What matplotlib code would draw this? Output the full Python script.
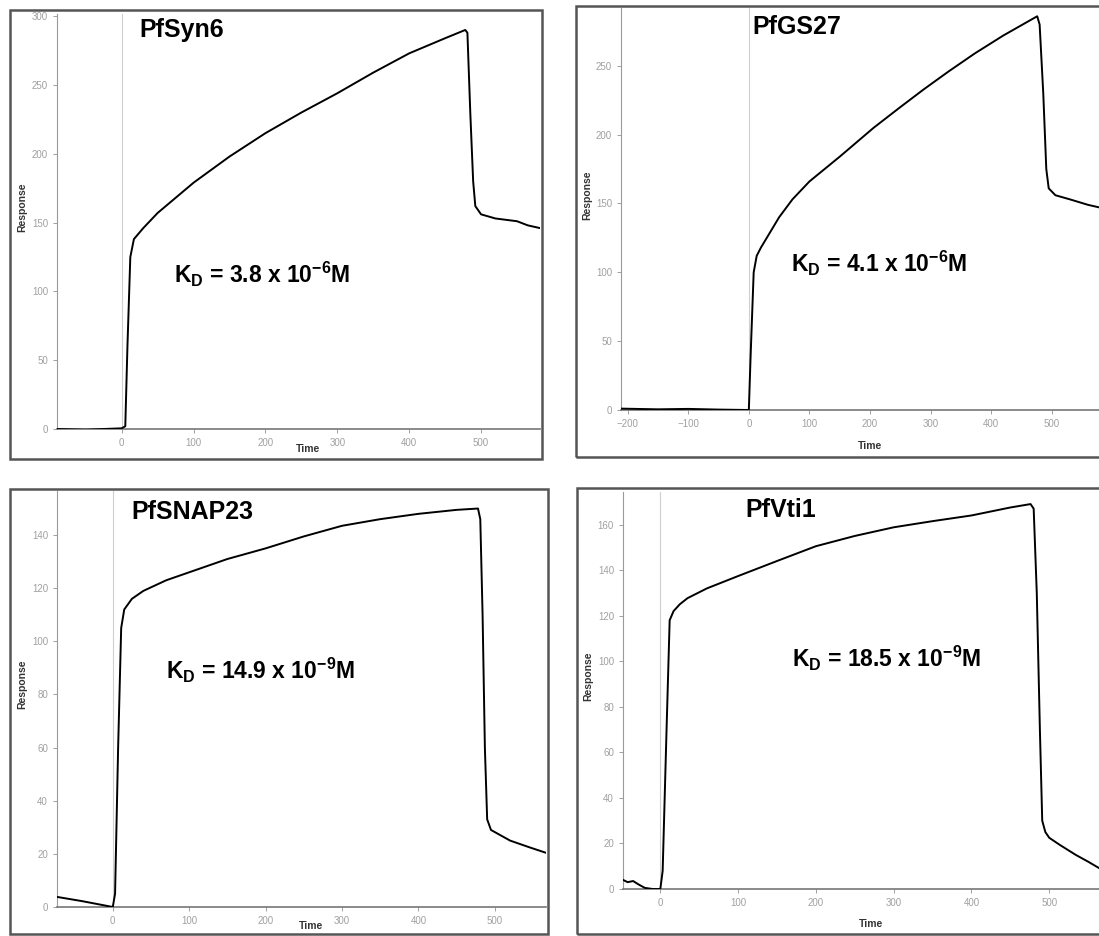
import matplotlib
matplotlib.use("Agg")
import matplotlib.pyplot as plt
from matplotlib.patches import Rectangle

plt.rcParams['font.family'] = ['Liberation Sans', 'DejaVu Sans']
plt.rcParams['mathtext.fontset'] = 'custom'
plt.rcParams['mathtext.rm'] = 'Liberation Sans'
plt.rcParams['mathtext.bf'] = 'Liberation Sans:bold'

W, H = 1099, 936

# ---- data ----
names = ['PfSyn6', 'PfGS27', 'PfSNAP23', 'PfVti1']
kd_values = ['3.8', '4.1', '14.9', '18.5']
kd_exponents = ['-6', '-6', '-9', '-9']

syn6_t = [-90, -50, 0, 5, 8, 12, 17, 30, 50, 100, 150, 200, 250, 300, 350, 400,
          450, 478, 481, 485, 489, 492, 500, 520, 550, 565, 582]
syn6_r = [0, -0.5, 0.5, 2, 60, 125, 138, 146, 157, 179, 198, 215, 230, 244, 259, 273,
          284, 290, 288, 230, 180, 162, 156, 153, 151, 148, 146]

gs27_t = [-211, -150, -100, -50, 0, 3, 8, 13, 20, 50, 72, 100, 150, 206, 250, 289,
          330, 373, 420, 460, 476, 480, 486, 491, 495, 506, 530, 560, 580]
gs27_r = [1, 0.5, 0.8, 0.3, 0, 40, 100, 112, 118, 140, 153, 166, 184, 205, 220, 233,
          246, 259, 272, 282, 286, 280, 230, 175, 161, 156, 153, 149, 147]

snap23_t = [-73, -40, 0, 3, 7, 11, 15, 25, 40, 70, 100, 150, 200, 250, 300, 350,
            400, 450, 478, 481, 484, 487, 490, 495, 520, 545, 567]
snap23_r = [3.8, 2.2, 0, 5, 60, 105, 112, 116, 119, 123, 126, 131, 135, 139.5, 143.5, 146,
            148, 149.5, 150, 146, 110, 60, 33, 29, 25, 22.5, 20.4]

vti1_t = [-48, -42, -35, -28, -20, -10, 0, 3, 8, 12, 17, 25, 35, 60, 100, 150, 200,
          250, 300, 350, 400, 450, 476, 480, 484, 488, 491, 495, 500, 513, 534, 550, 565]
vti1_r = [4, 3, 3.5, 2, 0.5, 0, 0, 8, 70, 118, 122, 125, 127.7, 132, 137.4, 144, 150.5,
          155, 158.8, 161.5, 164, 167.5, 169, 167, 130, 70, 30, 25, 22.5, 19.5, 15, 12, 9]

times = [syn6_t, gs27_t, snap23_t, vti1_t]
responses = [syn6_r, gs27_r, snap23_r, vti1_r]

xticks = [[0, 100, 200, 300, 400, 500],
          [-200, -100, 0, 100, 200, 300, 400, 500],
          [0, 100, 200, 300, 400, 500],
          [0, 100, 200, 300, 400, 500]]
yticks = [[0, 50, 100, 150, 200, 250, 300],
          [0, 50, 100, 150, 200, 250],
          [0, 20, 40, 60, 80, 100, 120, 140],
          [0, 20, 40, 60, 80, 100, 120, 140, 160]]

# ---- layout (pixels: left, top, right, bottom) ----
axes_px = [(57, 14, 540, 429), (621, 8, 1099, 410),
           (57, 491, 546, 907), (623, 492, 1099, 889)]
xlims = [(-90, 582), (-211, 578), (-73, 567), (-48, 564)]
ylims = [(0, 301.6), (0, 292), (0, 156.6), (0, 174.3)]
frames_px = [(10, 10, 542, 459), (576, 6, 1110, 457),
             (10, 489, 548, 934), (577, 488, 1110, 934)]
title_px = [(139, 30), (752, 27), (131, 512), (745, 510)]
kd_px = [(174, 274), (791, 263), (166, 670), (792, 658)]
time_y_px = [449, 446, 926, 924]
resp_x_px = [22, 587, 22, 588]


def fig_box(l, t, r, b):
    return [l / W, 1 - b / H, (r - l) / W, (b - t) / H]


fig = plt.figure(figsize=(W / 100, H / 100), dpi=100)
fig.patch.set_facecolor('white')

for i in range(4):
    l, t, r, b = axes_px[i]
    ax = fig.add_axes(fig_box(l, t, r, b))
    ax.plot(times[i], responses[i], color='black', lw=1.4, zorder=3)
    ax.axvline(0, color='#cfcfcf', lw=0.8, zorder=1)
    ax.set_xlim(*xlims[i])
    ax.set_ylim(*ylims[i])
    ax.set_xticks(xticks[i])
    ax.set_yticks(yticks[i])
    for s in ['top', 'right']:
        ax.spines[s].set_visible(False)
    ax.spines['left'].set_color('#9a9a9a')
    ax.spines['bottom'].set_color('#777777')
    ax.spines['bottom'].set_linewidth(1.2)
    ax.tick_params(colors='#a0a0a0', labelsize=7, length=3, width=0.7)
    ax.set_xlabel('Time', fontsize=7.5, color='#333333', fontweight='bold')
    ax.set_ylabel('Response', fontsize=7.5, color='#333333', fontweight='bold')
    w = r - l
    h = b - t
    ax.xaxis.set_label_coords(0.52, -(time_y_px[i] - b) / h)
    ax.xaxis.label.set_va('center')
    ax.yaxis.set_label_coords(-(l - resp_x_px[i]) / w, 0.535)
    ax.yaxis.label.set_va('center')

    # panel frame
    fl, ft, fr, fb = frames_px[i]
    fig.patches.append(Rectangle((fl / W, 1 - fb / H), (fr - fl) / W, (fb - ft) / H,
                                 transform=fig.transFigure, fill=False,
                                 edgecolor='#555555', lw=1.8))

    tx, ty = title_px[i]
    fig.text(tx / W, 1 - ty / H, names[i], fontsize=18, fontweight='bold',
             ha='left', va='center')
    kx, ky = kd_px[i]
    kd = r'K$_{\mathbf{D}}$ = ' + kd_values[i] + r' x 10$^{\mathbf{' + kd_exponents[i] + '}}$M'
    fig.text(kx / W, 1 - ky / H, kd, fontsize=16.5, fontweight='bold',
             ha='left', va='center')

fig.savefig('out.png', dpi=100)
